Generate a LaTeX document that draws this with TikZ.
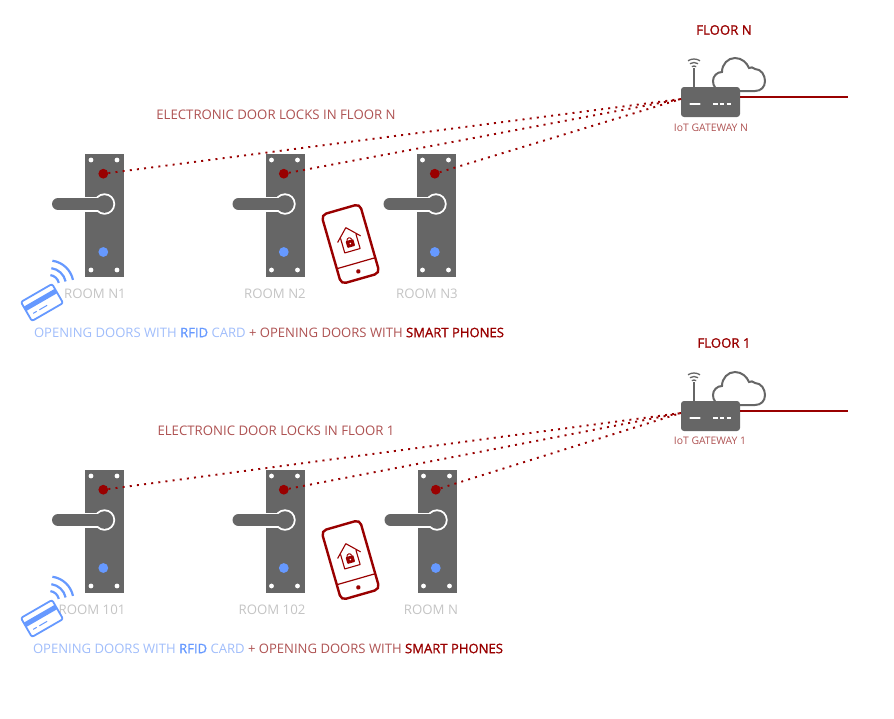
\documentclass[tikz,border=0pt]{standalone}
\usepackage{fontspec}
\setmainfont{Open Sans}
\newfontfamily\strongfont[FakeBold=1.2]{Open Sans}
\usepackage{xcolor}
\usetikzlibrary{arrows.meta,positioning}
\definecolor{LockGray}{HTML}{666666}
\definecolor{LockRed}{HTML}{990000}
\definecolor{LockBlue}{HTML}{6699FF}
\definecolor{RoomGray}{HTML}{C4C4C4}
\definecolor{SoftRed}{HTML}{AE5252}
\definecolor{SoftBlue}{HTML}{A0BDFB}
\newcommand{\openline}{\textcolor{SoftBlue}{OPENING DOORS WITH} \textcolor{LockBlue}{\strongfont RFID} \textcolor{SoftBlue}{CARD} \textcolor{SoftRed}{+ OPENING DOORS WITH} \textcolor{LockRed}{\strongfont SMART PHONES}}
\begin{document}
\begin{tikzpicture}[
 x=1pt,y=-1pt,
 label/.style={inner sep=0pt,font=\fontsize{13.2}{15}\selectfont},
 openlabel/.style={inner sep=0pt,font=\fontsize{13.07}{15}\selectfont},
 roomlabel/.style={label,text=RoomGray},
 floorlabel/.style={label,text=LockRed,font=\fontsize{13.2}{15}\selectfont\strongfont},
 gwlabel/.style={inner sep=0pt,font=\fontsize{10.4}{12}\selectfont,text=SoftRed},
 led/.style={circle,inner sep=0pt,minimum size=9.8pt},
 screw/.style={fill=white},
 dotline/.style={LockRed,line width=1.9pt,dash pattern=on 2pt off 5.2pt},
 uplink/.style={LockRed,line width=2pt},
 doorlock/.pic={
  \node[fill=LockGray,inner sep=0pt,minimum width=39pt,minimum height=123pt] (-plate) at (19.5,61.5) {};
  \foreach \sx/\sy in {6/6,32/6,6/116,32/116} \fill[screw] (\sx,\sy) circle[radius=2.4];
  \node[led,fill=LockRed] (-led) at (18.3,19.7) {};
  \node[led,fill=LockBlue] (-blue) at (18.3,98) {};
  \fill[white] (19.5,50) circle[radius=10.7];
  \draw[white,line width=15pt,line cap=round] (-27,50)--(16,50);
  \fill[LockGray] (19.5,50) circle[radius=8.8];
  \draw[LockGray,line width=12pt,line cap=round] (-27,50)--(16,50);
 },
 gateway/.pic={
  \draw[LockGray,line width=2pt,fill=white] (32,4) .. controls (26,4) and (23,-1) .. (23,-6) .. controls (23,-11) and (27,-15) .. (32,-15) .. controls (32,-23) and (38,-29) .. (45,-29) .. controls (52,-29) and (57,-24) .. (59,-19) .. controls (61,-20) and (63,-20) .. (65,-18) .. controls (71,-18) and (75,-12) .. (75,-6) .. controls (75,0) and (71,4) .. (65,4) -- cycle;
  \draw[LockGray,line width=1.8pt] (4,0)--(4,-19);
  \foreach \r in {4,7.5,11} \draw[LockGray,line width=1.3pt] (-123:\r)++(4,-17) arc[start angle=-123,end angle=-57,radius=\r];
  \node[fill=LockGray,rounded corners=3pt,inner sep=0pt,minimum width=59pt,minimum height=30pt] (-box) at (20.5,15) {};
  \coordinate (-port) at (-9,12);
  \coordinate (-out) at (50,10);
  \coordinate (-end) at (158,10);
  \draw[white,line width=2.6pt,line cap=round] (0.5,17)--(9.5,17);
  \draw[white,line width=1.2pt,dash pattern=on 4.6pt off 2.2pt] (23,17)--(41,17);
  \draw[uplink] (-out)--(-end);
 },
 rfidcard/.pic={
  \begin{scope}[rotate=30]
   \draw[LockBlue,line width=1.8pt,rounded corners=2pt,fill=white] (-18,-11) rectangle (18,11);
   \fill[LockBlue] (-18,-5.5) rectangle (18,-0.5);
   \draw[LockBlue,line width=1pt] (-13,5)--(-9,5) (-6,5)--(3,5);
  \end{scope}
  \foreach \r in {10,17,24.5} \draw[LockBlue,line width=2.2pt] (-82:\r)++(7,-17.5) arc[start angle=-82,end angle=-12,radius=\r];
 },
 smartphone/.pic={
  \begin{scope}[rotate=16]
   \draw[LockRed,line width=2.4pt,rounded corners=5pt,fill=white] (-20,-36) rectangle (20,36);
   \draw[LockRed,line width=1.2pt] (-20,20)--(20,20);
   \fill[LockRed] (0,28.5) circle[radius=2.2];
   \draw[LockRed,line width=1.1pt,line join=round] (-12,-5)--(0,-17)--(12,-5) (-8,-8)--(-8,7)--(8,7)--(8,-8);
   \fill[LockRed,rounded corners=0.8pt] (-4,-4) rectangle (4,3);
   \draw[LockRed,line width=1pt] (-2.4,-4) arc[start angle=180,end angle=360,radius=2.4];
   \fill[white] (0,-0.5) circle[radius=0.9];
  \end{scope}
 }
]
% floor n
\node[floorlabel] (floorn) at (724,30) {FLOOR N};
\pic (gwn) at (690,87) {gateway};
\node[gwlabel] (gwnlabel) at (711,127.5) {IoT GATEWAY N};
\node[label,text=SoftRed] (locksn) at (276,114.5) {ELECTRONIC DOOR LOCKS IN FLOOR N};
\pic (n1) at (85,154) {doorlock};
\pic (n2) at (265.5,154) {doorlock};
\pic (n3) at (416.5,154) {doorlock};
\node[roomlabel] (roomn1) at (95,294) {ROOM N1};
\node[roomlabel] (roomn2) at (275,294) {ROOM N2};
\node[roomlabel] (roomn3) at (427,294) {ROOM N3};
\pic (cardn) at (42,302.5) {rfidcard};
\pic (phonen) at (350.5,244) {smartphone};
\node[openlabel] (openn) at (269,332.5) {\openline};
\draw[dotline] (n1-led)--(gwn-port);
\draw[dotline] (n2-led)--(gwn-port);
\draw[dotline] (n3-led)--(gwn-port);
% floor 1
\node[floorlabel] (floor1) at (724,343) {FLOOR 1};
\pic (gw1) at (690,401) {gateway};
\node[gwlabel] (gw1label) at (710,441) {IoT GATEWAY 1};
\node[label,text=SoftRed] (locks1) at (276,430.5) {ELECTRONIC DOOR LOCKS IN FLOOR 1};
\pic (r1) at (85,470) {doorlock};
\pic (r2) at (265.5,470) {doorlock};
\pic (r3) at (417.5,470) {doorlock};
\node[roomlabel] (room101) at (92,610) {ROOM 101};
\node[roomlabel] (room102) at (272,610) {ROOM 102};
\node[roomlabel] (roomnn) at (431,610) {ROOM N};
\pic (card1) at (42,618.5) {rfidcard};
\pic (phone1) at (350.5,560) {smartphone};
\node[openlabel] (open1) at (268,648.5) {\openline};
\draw[dotline] (r1-led)--(gw1-port);
\draw[dotline] (r2-led)--(gw1-port);
\draw[dotline] (r3-led)--(gw1-port);
\useasboundingbox (0,0) rectangle (894,718);
\end{tikzpicture}
\end{document}
